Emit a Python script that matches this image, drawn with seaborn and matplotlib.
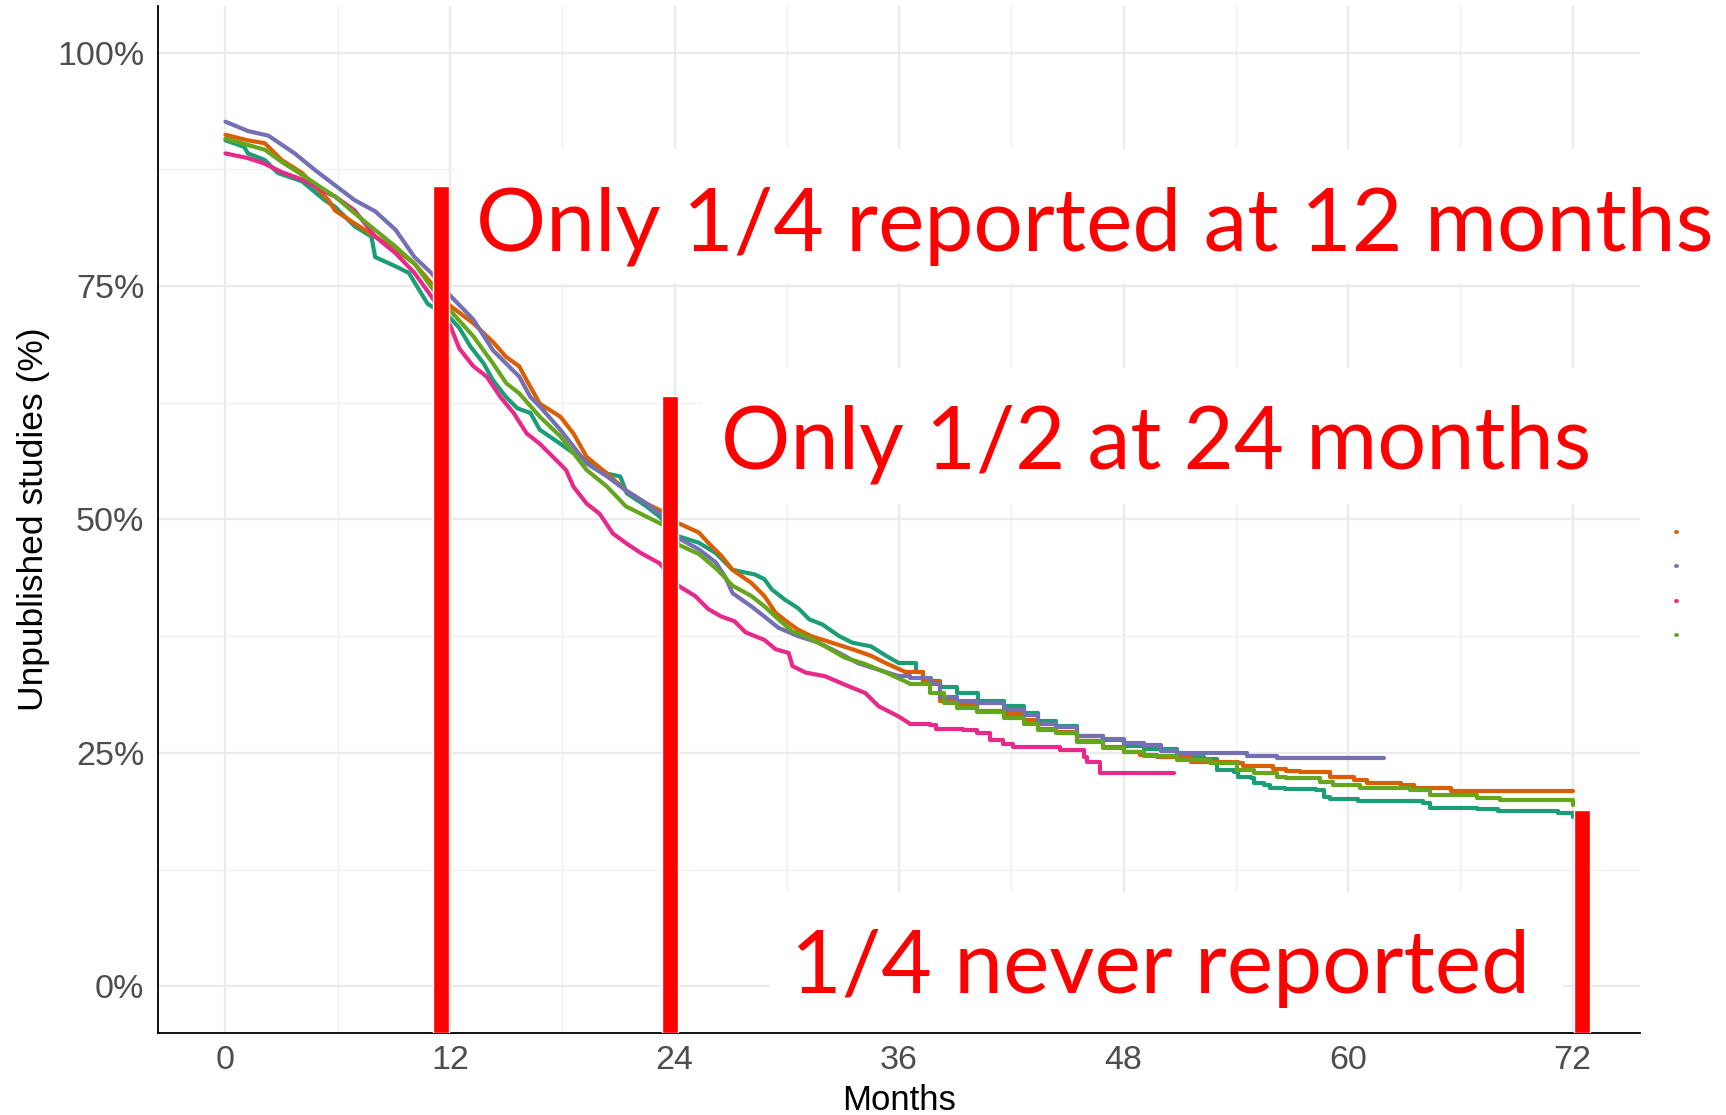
import numpy as np
import pandas as pd
import seaborn as sns
import matplotlib.pyplot as plt
from matplotlib.patches import Rectangle
from matplotlib.lines import Line2D

# Kaplan-Meier style curves (months, % unpublished)
teal_m = [0, 1.0, 1.2, 2.1, 2.8, 4.1, 5.3, 5.85, 6.9, 7.8, 8.0, 9.1, 9.8, 10.8, 12.0, 12.5, 13.1, 13.8, 14.3, 15.0,
          15.6, 16.3, 16.8, 17.9, 18.6, 19.3, 20.4, 21.1, 21.45, 22.5, 23.2, 24.2, 25.3, 26.2, 27.1, 28.3, 28.8, 29.2,
          29.9, 30.6, 31.2, 31.9, 32.8, 33.5, 34.5, 35.3, 36.0, 36.9, 37.3, 38.2, 39.1, 40.2, 41.6, 42.65, 43.4, 44.4,
          45.5, 46.9, 48.0, 49.1, 50.85, 52.3, 53.0, 53.9, 54.1, 54.8, 54.95, 55.5, 55.8, 56.6, 58.3, 58.7, 59.05,
          60.5, 64.0, 64.4, 66.9, 68.0, 71.2, 72.0]
teal_v = [90.6, 89.9, 89.2, 88.5, 87.1, 86.2, 84.2, 83.5, 81.4, 80.3, 78.1, 77.1, 76.4, 73.1, 71.6, 70.5, 68.5, 66.7,
          64.9, 63.1, 61.9, 61.4, 59.6, 58.1, 57.1, 56.4, 54.9, 54.6, 52.8, 51.4, 50.3, 48.2, 47.5, 46.4, 44.6, 44.1,
          43.6, 42.5, 41.4, 40.5, 39.3, 38.75, 37.5, 36.8, 36.4, 35.4, 34.6, 33.7, 32.7, 32.0, 31.4, 30.5, 30.0, 29.3,
          28.4, 27.9, 26.8, 26.4, 25.7, 25.4, 24.6, 24.3, 23.2, 23.0, 22.4, 22.3, 21.8, 21.6, 21.25, 21.1, 21.0, 20.3,
          20.1, 19.8, 19.6, 19.1, 19.0, 18.75, 18.6, 18.1]

orange_m = [0, 1.2, 2.1, 3.0, 4.1, 5.5, 5.85, 6.9, 8.0, 9.1, 10.1, 11.0, 12.0, 13.25, 14.3, 15.0, 15.7, 16.1, 16.8,
            17.9, 18.6, 19.3, 20.4, 21.4, 22.5, 23.9, 24.2, 25.3, 25.8, 26.5, 27.1, 28.1, 28.8, 29.4, 30.1, 30.6,
            31.3, 32.4, 33.5, 34.5, 35.3, 36.3, 37.3, 38.2, 39.1, 40.15, 41.6, 42.65, 43.4, 44.4, 45.5, 46.9, 48.0,
            48.9, 49.8, 51.6, 54.1, 54.4, 56.0, 56.7, 57.45, 59.05, 60.3, 61.0, 62.8, 63.5, 65.5, 72.0]
orange_v = [91.2, 90.6, 90.3, 88.5, 87.1, 84.2, 83.1, 81.7, 80.3, 78.9, 77.4, 75.3, 72.9, 71.0, 69.0, 67.4, 66.4,
            64.9, 62.4, 61.0, 59.2, 56.7, 54.9, 53.1, 51.7, 50.3, 49.6, 48.6, 47.5, 46.1, 44.6, 43.2, 41.8, 40.0,
            38.9, 38.2, 37.5, 36.8, 36.1, 35.4, 34.6, 33.7, 32.6, 30.6, 30.1, 29.5, 29.2, 28.5, 27.6, 27.2, 26.3,
            25.6, 25.1, 24.8, 24.6, 24.05, 23.9, 23.6, 23.3, 23.1, 23.0, 22.4, 22.1, 21.8, 21.6, 21.2, 20.9, 20.9]

purple_m = [0, 1.2, 2.3, 3.7, 4.8, 5.85, 6.9, 8.0, 9.1, 10.1, 11.0, 12.0, 13.25, 14.3, 15.0, 15.7, 16.3, 16.8, 17.9,
            18.6, 19.3, 20.4, 21.4, 22.5, 23.9, 24.2, 25.3, 26.2, 26.7, 27.1, 28.1, 28.8, 29.55, 30.6, 31.7, 32.8,
            33.8, 34.9, 36.0, 36.6, 37.7, 38.2, 39.1, 40.15, 41.6, 42.65, 43.4, 44.4, 45.5, 46.9, 48.0, 49.1, 50.0,
            50.85, 54.6, 56.2, 61.9]
purple_v = [92.6, 91.6, 91.1, 89.2, 87.4, 85.8, 84.2, 83.0, 81.0, 78.1, 76.4, 74.0, 71.4, 68.1, 66.7, 65.3, 63.1,
            62.1, 59.6, 57.8, 56.0, 54.6, 53.1, 51.7, 49.6, 48.0, 46.8, 45.4, 43.9, 42.1, 40.7, 39.6, 38.4, 37.5,
            36.8, 35.7, 34.6, 33.9, 33.2, 33.0, 32.4, 31.0, 30.6, 30.3, 29.6, 29.0, 28.1, 27.8, 26.8, 26.5, 26.1,
            25.8, 25.2, 25.0, 24.7, 24.4, 24.4]

pink_m = [0, 1.2, 2.1, 3.0, 4.1, 5.3, 5.85, 6.9, 8.0, 9.1, 10.1, 11.0, 12.0, 12.5, 13.25, 13.96, 14.7, 15.4, 16.1,
          16.8, 17.5, 18.2, 18.6, 19.3, 20.0, 20.7, 21.45, 22.2, 23.2, 24.2, 25.1, 25.8, 26.5, 27.2, 27.8, 28.8, 29.4,
          30.1, 30.3, 31.0, 32.05, 33.1, 34.2, 34.9, 35.97, 36.6, 37.66, 38.0, 39.44, 40.15, 40.87, 41.58, 42.11,
          44.6, 45.86, 46.04, 46.75, 50.7]
pink_v = [89.2, 88.7, 88.1, 87.2, 86.4, 85.1, 84.6, 83.1, 80.3, 78.5, 76.4, 73.9, 70.8, 68.3, 66.4, 65.3, 63.1, 61.4,
          59.2, 58.1, 56.7, 55.3, 53.5, 51.7, 50.6, 48.5, 47.4, 46.4, 45.3, 42.9, 41.8, 40.4, 39.6, 39.1, 37.9, 37.1,
          36.1, 35.7, 34.3, 33.6, 33.2, 32.3, 31.4, 30.0, 28.9, 28.1, 28.0, 27.6, 27.4, 27.1, 26.4, 26.0, 25.6, 25.3,
          24.6, 24.0, 22.8, 22.8]

green_m = [0, 1.2, 2.1, 3.0, 4.1, 5.3, 5.85, 6.9, 8.0, 9.1, 10.1, 11.0, 12.0, 13.25, 14.3, 15.0, 15.7, 16.8, 17.9,
           18.6, 19.3, 20.4, 21.4, 22.5, 23.9, 24.2, 25.3, 26.3, 27.1, 28.1, 28.8, 29.55, 30.3, 31.0, 32.05, 33.1,
           34.2, 35.3, 36.6, 37.66, 38.4, 39.1, 40.15, 41.6, 42.65, 43.4, 44.4, 45.5, 46.9, 48.0, 49.1, 50.85, 52.6,
           54.06, 54.95, 56.2, 56.7, 58.5, 59.2, 60.66, 63.3, 64.4, 66.9, 68.14, 71.17, 72.0]
green_v = [90.8, 90.1, 89.6, 88.3, 86.9, 85.3, 84.6, 82.8, 81.0, 79.2, 77.4, 74.9, 72.4, 69.6, 66.7, 64.6, 63.5, 61.0,
           58.9, 57.1, 55.3, 53.5, 51.4, 50.3, 48.9, 47.3, 46.3, 44.6, 42.9, 41.8, 40.7, 39.3, 38.0, 37.5, 36.4, 35.2,
           34.5, 33.6, 32.4, 31.4, 30.3, 29.75, 29.4, 28.7, 28.1, 27.4, 27.1, 26.2, 25.5, 25.1, 24.7, 24.2, 23.9,
           23.2, 22.8, 22.4, 22.3, 21.9, 21.55, 21.2, 21.0, 20.5, 20.2, 20.0, 19.9, 19.4]

groups = ["teal", "orange", "purple", "pink", "green"]
colors = {"teal": "#1B9E77", "orange": "#D95F02", "purple": "#7570B3", "pink": "#E7298A", "green": "#66A61E"}
months = {"teal": teal_m, "orange": orange_m, "purple": purple_m, "pink": pink_m, "green": green_m}
values = {"teal": teal_v, "orange": orange_v, "purple": purple_v, "pink": pink_v, "green": green_v}

# red marker bars and overlay notes
bar_months = [11.53, 23.75, 72.5]
bar_tops = [85.7, 63.2, 18.9]
notes = ["Only 1/4 reported at 12 months", "Only 1/2 at 24 months", "1/4 never reported"]

df = pd.concat([pd.DataFrame({"Months": months[g], "pct": values[g], "group": g}) for g in groups],
               ignore_index=True)

# the dense early part reads as a smooth curve, the sparse tail as clear steps
cut = df[df.Months >= 36].groupby("group").Months.min()
early = df[df.Months <= df.group.map(cut)]
late = df[df.Months >= df.group.map(cut)]

sns.set_theme(style="white")
plt.rcParams['font.family'] = ['Liberation Sans', 'DejaVu Sans']

fig = plt.figure(figsize=(17.26, 11.15), dpi=100)
ax = fig.add_axes([0.0916, 0.0736, 0.9502 - 0.0916, 0.9947 - 0.0736])

sns.lineplot(data=early, x="Months", y="pct", hue="group", palette=colors, estimator=None,
             linewidth=3.0, legend=False, ax=ax, zorder=2)
sns.lineplot(data=late, x="Months", y="pct", hue="group", palette=colors, estimator=None,
             drawstyle="steps-post", linewidth=3.0, legend=False, ax=ax, zorder=2)

ax.set_xlim(-3.6, 75.6)
ax.set_ylim(-5, 105)
ax.set_xticks(np.arange(0, 73, 12))
ax.set_xticks(np.arange(6, 72, 12), minor=True)
ax.set_yticks([0, 25, 50, 75, 100])
ax.set_yticks([12.5, 37.5, 62.5, 87.5], minor=True)
ax.set_yticklabels(["0%", "25%", "50%", "75%", "100%"])
ax.set_axisbelow(True)
ax.grid(which="major", color="#EBEBEB", linewidth=1.7)
ax.grid(which="minor", color="#F0F0F0", linewidth=1.0)
ax.tick_params(which="both", length=0, labelsize=24.5, labelcolor="#4D4D4D")
ax.tick_params(axis="x", pad=9)
ax.tick_params(axis="y", pad=10)
for s in ["top", "right"]:
    ax.spines[s].set_visible(False)
for s in ["left", "bottom"]:
    ax.spines[s].set_color("black")
    ax.spines[s].set_linewidth(1.3)

ax.set_xlabel("Months", fontsize=25, color="black")
ax.set_ylabel("Unpublished studies (%)", fontsize=25.5, color="black")
ax.xaxis.set_label_coords(0.5, -0.050)
ax.yaxis.set_label_coords(-0.073, 0.5)

# white boxes behind the notes
boxes = [(12.37, 75.35, 81, 89.7), (25.47, 51.65, 81, 66.2), (29.1, -5, 71.5, 10.1)]
for x0, y0, x1, y1 in boxes:
    ax.add_patch(Rectangle((x0, y0), x1 - x0, y1 - y0, facecolor="white", edgecolor="none",
                           zorder=1, clip_on=False))

ax.bar(bar_months, [t + 5 for t in bar_tops], bottom=-5, width=0.84, color="#FF0000", zorder=3)

note_pos = [(13.4, 78.75), (26.5, 55.5), (30.25, -0.73)]
note_size = [63, 62.3, 63]
for (tx, ty), txt, fs in zip(note_pos, notes, note_size):
    ax.text(tx, ty, txt, fontsize=fs, color="#FF0000", family=["Lato", "DejaVu Sans"],
            ha="left", va="baseline", zorder=4)

# what is left of the legend keys
handles = [Line2D([0], [0], color=colors[g], lw=2.8) for g in ["orange", "purple", "pink", "green"]]
fig.legend(handles, [" "] * 4, loc="upper left", bbox_to_anchor=(1675.5 / 1726, 1 - 525.5 / 1115),
           frameon=False, handlelength=0.1, handletextpad=0, borderpad=0, borderaxespad=0,
           labelspacing=0.85, fontsize=14)

fig.savefig("out.png", dpi=100)
